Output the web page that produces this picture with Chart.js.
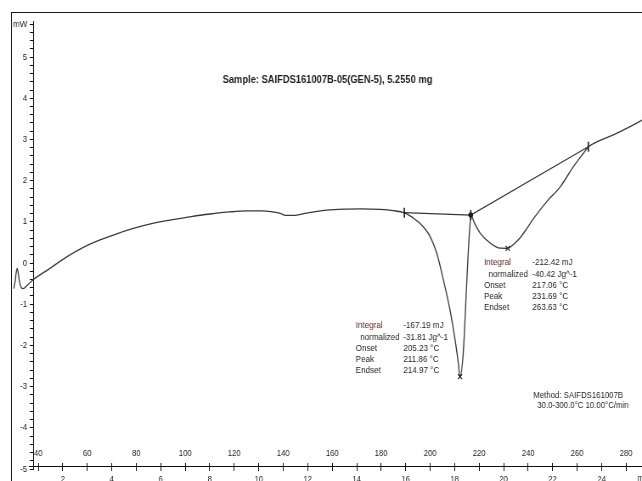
<!DOCTYPE html>
<html><head><meta charset="utf-8">
<script src="https://cdn.jsdelivr.net/npm/chart.js@4.4.1/dist/chart.umd.min.js"></script>
<style>
html,body{margin:0;padding:0;background:#fff;overflow:hidden;width:642px;height:481px;}
#frame{position:absolute;left:11px;top:12px;width:700px;height:600px;border-left:1px solid #1a1a1a;border-top:1px solid #1a1a1a;}
#wrap{position:absolute;left:0;top:0;width:756px;height:481px;transform:scaleX(0.849206);transform-origin:0 0;}
canvas{display:block;}
</style></head><body>
<div id="frame"></div>
<div id="wrap"><canvas id="c" width="756" height="481"></canvas></div>
<script>
// ---- data ----
const temperatureC = [30.0,30.6,31.0,31.4,31.8,32.3,33.0,33.8,35.5,38.0,44,51.6,58,65.2,72,78.8,85,92.4,100,106,111.5,118,125,131,135,138.5,141,144,149.6,157.8,166,172,179.5,185,189.45,192,194,195.9,198,200,202.7,205.4,208.1,210.2,211.5,212.2,213.5,214.6,215.6,216.3,216.6,218,220.5,224.6,228.6,231.7,234,236.8,239.5,242.1,247.6,253.1,258.5,262.5,264.6,268,274.8,281.6,286.5];
const heatFlowMW = [-0.62,-0.42,-0.22,-0.13,-0.25,-0.45,-0.59,-0.62,-0.54,-0.40,-0.16,0.15,0.37,0.56,0.71,0.84,0.94,1.03,1.10,1.16,1.20,1.24,1.265,1.265,1.25,1.21,1.155,1.155,1.21,1.285,1.31,1.315,1.30,1.27,1.22,1.14,1.05,0.96,0.82,0.64,0.235,-0.41,-1.14,-1.87,-2.43,-2.76,-2.19,-0.90,0.32,0.96,1.165,0.98,0.72,0.48,0.36,0.357,0.45,0.62,0.84,1.07,1.49,1.85,2.34,2.66,2.82,2.94,3.11,3.31,3.47];
const limitT  = [189.45, 216.56, 264.58];
const limitMW = [1.221, 1.165, 2.823];
const peakT   = [212.19, 231.67];
const peakMW  = [-2.76, 0.357];
const tempTickValues = [40,50,60,70,80,90,100,110,120,130,140,150,160,170,180,190,200,210,220,230,240,250,260,270,280];
const tempTickLabels = [40,60,80,100,120,140,160,180,200,220,240,260,280];
const timeTickValues = [1,2,3,4,5,6,7,8,9,10,11,12,13,14,15,16,17,18,19,20,21,22,23,24,25];
const timeTickLabels = [2,4,6,8,10,12,14,16,18,20,22,24];
const yMajorLabels = [-5,-4,-3,-2,-1,0,1,2,3,4,5];
const yUnitTick = 5.8;
const timeUnitPos = 25.72;

const titleText = 'Sample: SAIFDS161007B-05(GEN-5), 5.2550 mg';
const block1 = [['Integral','-167.19 mJ'],['  normalized','-31.81 Jg^-1'],['Onset','205.23 °C'],['Peak','211.86 °C'],['Endset','214.97 °C']];
const block2 = [['Integral','-212.42 mJ'],['  normalized','-40.42 Jg^-1'],['Onset','217.06 °C'],['Peak','231.69 °C'],['Endset','263.63 °C']];
const methodLines = ['Method: SAIFDS161007B',' 30.0-300.0°C 10.00°C/min'];

// ---- layout ----
const S = 642/756;
const X = v => v / S;
const FONT = '"Liberation Sans", Arial, Helvetica, sans-serif';
const xMin = 36.33, xMax = 286.5, yMin = -5.0, yMax = 5.875;
const yAxisAtT = 38.16, yLabelsAtT = 35.51, xAxisAtMW = -4.95;

const yTicks = [];
for (let i = 0; i <= 54; i++) yTicks.push(Math.round((-5 + i*0.2)*10)/10);

const noPad = s => { s.paddingLeft = 0; s.paddingRight = 0; s.paddingTop = 0; s.paddingBottom = 0; };

const textPlugin = {
  id: 'texts',
  afterDraw(chart) {
    const ctx = chart.ctx;
    ctx.save();
    ctx.textBaseline = 'middle';
    ctx.fillStyle = '#1e1e1e';
    ctx.font = 'bold 11px ' + FONT;
    ctx.textAlign = 'center';
    ctx.fillText(titleText, X(327.5), 80);
    // time-axis unit, placed where the reference shows it
    ctx.font = '9px ' + FONT;
    ctx.fillStyle = '#222';
    ctx.textBaseline = 'top';
    ctx.fillText('min', chart.scales.x2.getPixelForValue(timeUnitPos), chart.scales.y.getPixelForValue(xAxisAtMW) + 7.5);
    ctx.textBaseline = 'middle';
    ctx.textAlign = 'left';
    ctx.font = '9.5px ' + FONT;
    const drawBlock = (rows, lx, vx, y0) => {
      rows.forEach((r, i) => {
        const y = y0 + i*11.2;
        ctx.fillStyle = i === 0 ? '#6a2222' : '#1e1e1e';
        ctx.fillText(r[0].trim(), X(lx + (r[0].startsWith(' ') ? 4.5 : 0)), y);
        ctx.fillStyle = '#1e1e1e';
        ctx.fillText(r[1], X(vx), y);
      });
    };
    drawBlock(block1, 355.7, 403.3, 325.8);
    drawBlock(block2, 484, 532.3, 262.8);
    ctx.fillStyle = '#1e1e1e';
    ctx.font = '9.2px ' + FONT;
    ctx.fillText(methodLines[0], X(533.3), 395);
    ctx.fillText(methodLines[1].trim(), X(537.3), 405.5);
    ctx.restore();
  }
};

const pts = (xs, ys) => xs.map((x, i) => ({x, y: ys[i]}));

new Chart(document.getElementById('c'), {
  type: 'line',
  data: {
    datasets: [
      { data: pts(temperatureC, heatFlowMW), borderColor: '#383838', borderWidth: 1.3, pointRadius: 0, cubicInterpolationMode: 'monotone', clip: false, xAxisID: 'x', yAxisID: 'y', order: 5 },
      { data: pts(limitT, limitMW), borderColor: '#383838', borderWidth: 1.3, pointRadius: 0, tension: 0, xAxisID: 'x', yAxisID: 'y', order: 4 },
      { type: 'scatter', data: pts(limitT, limitMW), pointStyle: 'line', rotation: 90, pointRadius: 5, borderWidth: 1.6, borderColor: '#1a1a1a', xAxisID: 'x', yAxisID: 'y', order: 1 },
      { type: 'scatter', data: pts([limitT[1]], [limitMW[1]]), pointStyle: 'circle', pointRadius: 2.4, borderWidth: 1, borderColor: '#1a1a1a', backgroundColor: '#1a1a1a', xAxisID: 'x', yAxisID: 'y', order: 2 },
      { type: 'scatter', data: pts(peakT, peakMW), pointStyle: 'crossRot', pointRadius: 3.5, borderWidth: 1.1, borderColor: '#1a1a1a', xAxisID: 'x', yAxisID: 'y', order: 3 }
    ]
  },
  options: {
    responsive: false,
    animation: false,
    events: [],
    layout: { autoPadding: false, padding: { left: X(29.3), right: 0, top: 21, bottom: 12 } },
    plugins: { legend: { display: false }, tooltip: { enabled: false } },
    scales: {
      x: {
        type: 'linear', axis: 'x', bounds: 'data',
        position: { y: xAxisAtMW },
        afterDataLimits: s => { s.min = xMin; s.max = xMax; },
        afterBuildTicks: s => { s.ticks = tempTickValues.map(v => ({ value: v })); },
        afterFit: noPad,
        grid: { display: true, drawOnChartArea: false, drawTicks: true, tickLength: -4, tickColor: '#111', tickWidth: 1 },
        border: { display: true, color: '#111', width: 1 },
        ticks: { autoSkip: false, maxRotation: 0, padding: -14.4, color: '#222', font: { family: FONT, size: 9 },
          callback: v => tempTickLabels.includes(v) ? String(v) : '' }
      },
      x2: {
        type: 'linear', axis: 'x', min: (xMin - 30)/10, max: (xMax - 30)/10, bounds: 'data',
        position: { y: xAxisAtMW },
        afterBuildTicks: s => { s.ticks = timeTickValues.map(v => ({ value: v })); },
        afterFit: noPad,
        grid: { display: true, drawOnChartArea: false, drawTicks: true, tickLength: 4, tickWidth: 1, tickColor: '#111' },
        border: { display: false },
        ticks: { autoSkip: false, maxRotation: 0, padding: 3, color: '#222', font: { family: FONT, size: 9 },
          callback: v => timeTickLabels.includes(v) ? String(v) : '' }
      },
      y: {
        type: 'linear', axis: 'y', min: yMin, max: yMax, bounds: 'data',
        position: { x: yAxisAtT },
        afterBuildTicks: s => { s.ticks = yTicks.map(v => ({ value: v })); },
        afterFit: noPad,
        grid: { display: true, drawOnChartArea: false, drawTicks: true, tickLength: 4, tickColor: '#111', tickWidth: 1 },
        border: { display: true, color: '#111', width: 1 },
        ticks: { display: false }
      },
      yLabels: {
        type: 'linear', axis: 'y', min: yMin, max: yMax, bounds: 'data',
        position: { x: yLabelsAtT },
        afterBuildTicks: s => { s.ticks = yMajorLabels.concat([yUnitTick]).map(v => ({ value: v })); },
        afterFit: noPad,
        grid: { display: false, drawTicks: false },
        border: { display: false },
        ticks: { autoSkip: false, padding: 0, color: '#1a1a2a', font: { family: FONT, size: 9.5 },
          callback: v => v === yUnitTick ? 'mW' : String(v) }
      }
    }
  },
  plugins: [textPlugin]
});
</script></body></html>
